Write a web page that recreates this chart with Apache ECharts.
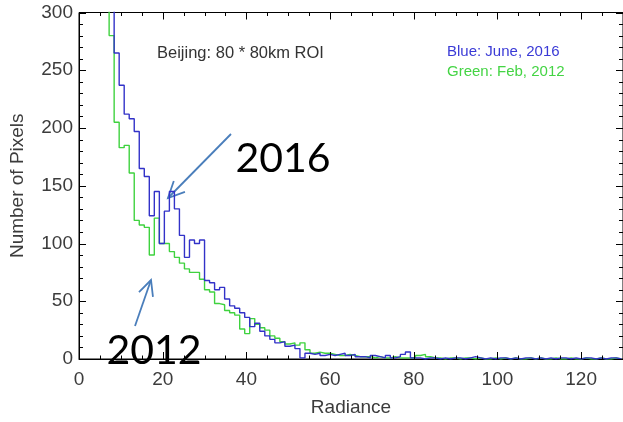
<!DOCTYPE html>
<html><head><meta charset="utf-8">
<script src="https://cdn.jsdelivr.net/npm/echarts@6/dist/echarts.min.js"></script>
<style>html,body{margin:0;padding:0;background:#fff}#c{width:623px;height:422px}</style>
</head><body><div id="c"></div>
<script>
// Histogram bins (Radiance), bin width 1.2 starting at 6.0
const binStart = 6.0;
const binWidth = 1.2;
// Blue: June, 2016
const blueJune2016 = [
  400, 400, 265, 237, 212, 208, 197, 165, 158, 124,
  145, 100, 128, 145, 130, 107, 88, 103, 100, 103,
  68, 66, 60, 62, 52, 46, 44, 40, 36, 28,
  31, 24, 20, 17, 14, 15, 11, 12, 9, 1,
  5, 4, 5, 3, 4, 3, 4, 5, 3, 4,
  2, 2, 1, 3, 2, 1, 3, 1, 2, 4,
  6, 1, 1, 0, 1, 1, 0, 1, 0, 1,
  1, 0, 1, 2, 1, 0, 1, 0, 1, 1,
  0, 1, 0, 1, 1, 0, 1, 0, 1, 0,
  1, 1, 0, 1, 0, 1, 1, 0, 1, 0,
  1, 1, 0
];
// Green: Feb, 2012
const greenFeb2012 = [
  400, 280, 205, 183, 185, 161, 120, 116, 114, 90,
  122, 100, 100, 93, 88, 83, 78, 75, 75, 69,
  60, 58, 48, 47, 42, 40, 38, 26, 22, 35,
  30, 27, 25, 20, 18, 15, 13, 14, 12, 14,
  8, 5, 6, 5, 5, 4, 3, 3, 4, 3,
  2, 2, 2, 1, 2, 1, 1, 2, 1, 1,
  1, 1, 3, 4, 2, 1, 1, 0, 1, 1,
  0, 1, 1, 0, 1, 0, 0, 1, 0, 1,
  0, 1, 0, 0, 1, 0, 1, 0, 0, 1,
  0, 0, 1, 0, 0, 1, 0, 0, 1, 0,
  0, 1, 0
];
const xTickLabels = [0, 20, 40, 60, 80, 100, 120];
const yTickLabels = [0, 50, 100, 150, 200, 250, 300];
const XMAX = 130, YMAX = 300;
const X_MAJOR = 20, X_MINOR = 5, Y_MAJOR = 50, Y_MINOR = 10;

function stepData(vals) {
  const d = vals.map((v, i) => [binStart + i * binWidth, v]);
  d.push([binStart + vals.length * binWidth, vals[vals.length - 1]]);
  return d;
}

// inward tick marks for the frame, placed through the axes' own scales
function tickData() {
  const d = [];
  for (let v = 0; v <= XMAX; v += X_MINOR) d.push([v, 0, v % X_MAJOR === 0 ? 7 : 3.5, 0]);
  for (let v = 0; v <= YMAX; v += Y_MINOR) d.push([0, v, v % Y_MAJOR === 0 ? 7 : 4, 1]);
  return d;
}
function renderTick(params, api) {
  const cs = params.coordSys;
  const len = api.value(2), orient = api.value(3);
  const p = api.coord([api.value(0), api.value(1)]);
  const style = { stroke: '#000', lineWidth: 1 };
  if (orient === 0) {
    const x = Math.round(p[0]) + 0.5, yb = cs.y + cs.height, yt = cs.y;
    return { type: 'group', children: [
      { type: 'line', shape: { x1: x, y1: yb, x2: x, y2: yb - len }, style: style },
      { type: 'line', shape: { x1: x, y1: yt, x2: x, y2: yt + len }, style: style }
    ] };
  }
  const y = Math.round(p[1]) + 0.5, xl = cs.x, xr = cs.x + cs.width;
  return { type: 'group', children: [
    { type: 'line', shape: { x1: xl, y1: y, x2: xl + len, y2: y }, style: style },
    { type: 'line', shape: { x1: xr, y1: y, x2: xr - len, y2: y }, style: style }
  ] };
}

const FONT = '"Liberation Sans", Arial, sans-serif';
const LBL = '#3c3c3c';

function arrow(x1, y1, x2, y2, wing, ang) {
  const dx = x1 - x2, dy = y1 - y2, L = Math.hypot(dx, dy);
  const ux = dx / L, uy = dy / L;
  const r = a => [x2 + wing * (ux * Math.cos(a) - uy * Math.sin(a)), y2 + wing * (ux * Math.sin(a) + uy * Math.cos(a))];
  const style = { stroke: '#4a7ebb', lineWidth: 1.8, fill: null };
  return [
    { type: 'polyline', shape: { points: [[x1, y1], [x2, y2]] }, style },
    { type: 'polyline', shape: { points: [r(ang), [x2, y2], r(-ang)] }, style }
  ];
}

const chart = echarts.init(document.getElementById('c'));
chart.setOption({
  animation: false,
  grid: { left: 78, right: -2, top: 12.5, bottom: 52, show: true, borderColor: '#000', borderWidth: 1, backgroundColor: 'transparent' },
  xAxis: {
    type: 'value', min: 0, max: XMAX, interval: X_MAJOR,
    axisLine: { show: true, lineStyle: { color: '#000' } },
    axisTick: { show: false }, splitLine: { show: false },
    axisLabel: { fontSize: 19, color: LBL, fontFamily: FONT, margin: 11, showMaxLabel: false,
      formatter: v => (xTickLabels.indexOf(v) >= 0 ? String(v) : '') },
    name: 'Radiance', nameLocation: 'middle', nameGap: 39,
    nameTextStyle: { fontSize: 19, color: LBL, fontFamily: FONT }
  },
  yAxis: {
    type: 'value', min: 0, max: YMAX, interval: Y_MAJOR,
    axisLine: { show: true, lineStyle: { color: '#000' } },
    axisTick: { show: false }, splitLine: { show: false },
    axisLabel: { fontSize: 19, color: LBL, fontFamily: FONT, margin: 6,
      formatter: v => (yTickLabels.indexOf(v) >= 0 ? String(v) : '') },
    name: 'Number of Pixels', nameLocation: 'middle', nameGap: 52, nameRotate: 90,
    nameTextStyle: { fontSize: 19, color: LBL, fontFamily: FONT }
  },
  series: [
    { type: 'line', name: 'Green: Feb, 2012', step: 'end', data: stepData(greenFeb2012), showSymbol: false, clip: true,
      lineStyle: { color: '#3fd23f', width: 1.4 }, z: 2 },
    { type: 'line', name: 'Blue: June, 2016', step: 'end', data: stepData(blueJune2016), showSymbol: false, clip: true,
      lineStyle: { color: '#3232c8', width: 1.4 }, z: 3 },
    { type: 'custom', name: 'ticks', data: tickData(), renderItem: renderTick, clip: false, silent: true, z: 4,
      encode: { x: 0, y: 1 } }
  ],
  graphic: [
    { type: 'text', x: 157, y: 53, style: { text: 'Beijing: 80 * 80km ROI', font: '16.5px ' + FONT, fill: '#333', align: 'left', verticalAlign: 'middle' } },
    { type: 'text', x: 447, y: 52, style: { text: 'Blue: June, 2016', font: '15px ' + FONT, fill: '#3a3ad6', align: 'left', verticalAlign: 'middle' } },
    { type: 'text', x: 447, y: 72, style: { text: 'Green: Feb, 2012', font: '15px ' + FONT, fill: '#44d444', align: 'left', verticalAlign: 'middle' } },
    { type: 'text', x: 283, y: 159, style: { text: '2016', font: '41px Lato, "Open Sans", sans-serif', fill: '#000', align: 'center', verticalAlign: 'middle' } },
    { type: 'text', x: 154, y: 351, style: { text: '2012', font: '41px Lato, "Open Sans", sans-serif', fill: '#000', align: 'center', verticalAlign: 'middle' } }
  ].concat(arrow(231, 134, 168, 198, 18, 0.45), arrow(135, 326, 151, 280, 17, 0.45))
});
</script>
</body></html>
